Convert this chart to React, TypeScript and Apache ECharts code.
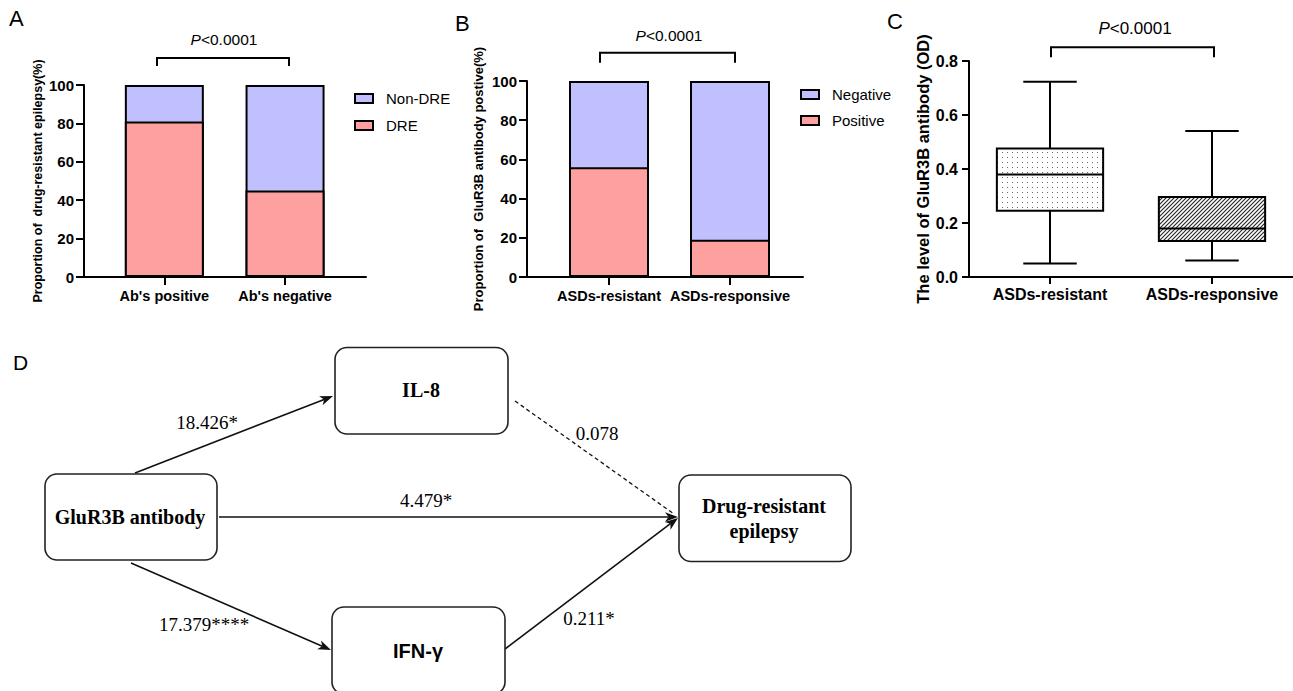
import React, { useEffect, useRef } from 'react';
import * as echarts from 'echarts';

// ---------- Data ----------
const catsA = ["Ab's positive", "Ab's negative"];
const dreA = [81, 45];
const nonDreA = [19, 55];

const catsB = ['ASDs-resistant', 'ASDs-responsive'];
const positiveB = [56, 19];
const negativeB = [44, 81];

const catsC = ['ASDs-resistant', 'ASDs-responsive'];
// [min, Q1, median, Q3, max]
const boxC = [
  [0.05, 0.245, 0.38, 0.476, 0.723],
  [0.061, 0.133, 0.18, 0.296, 0.541],
];

const pLabel = '<0.0001';
const nodeLabels = ['GluR3B antibody', 'IL-8', 'IFN-γ', 'Drug-resistant\nepilepsy'];
const edgeCoefs = ['18.426*', '0.078', '4.479*', '17.379****', '0.211*'];

// ---------- Styles ----------
const SANS = '"Liberation Sans", Arial, sans-serif';
const SERIF = '"Liberation Serif", "Times New Roman", serif';
const axisLine = { color: '#000', width: 2 };
const PINK = '#FFA0A0';
const LAVENDER = '#C0C0FF';

function makeDots(): string {
  const c = document.createElement('canvas');
  c.width = 5; c.height = 5;
  const g = c.getContext('2d')!;
  g.fillStyle = '#fff'; g.fillRect(0, 0, 5, 5);
  g.fillStyle = '#666'; g.fillRect(2, 2, 1, 1);
  return c.toDataURL();
}
function makeHatch(): string {
  const c = document.createElement('canvas');
  c.width = 4; c.height = 4;
  const g = c.getContext('2d')!;
  g.fillStyle = '#fff'; g.fillRect(0, 0, 4, 4);
  g.strokeStyle = '#222'; g.lineWidth = 1.1;
  g.beginPath();
  g.moveTo(-1, 5); g.lineTo(5, -1);
  g.moveTo(-1, 1); g.lineTo(1, -1);
  g.moveTo(3, 5); g.lineTo(5, 3);
  g.stroke();
  return c.toDataURL();
}

function arrow(x1: number, y1: number, x2: number, y2: number, dashed = false, head = true): any[] {
  const dx = x2 - x1, dy = y2 - y1;
  const L = Math.hypot(dx, dy);
  const ux = dx / L, uy = dy / L, px = -uy, py = ux;
  const len = 13, half = 4.8, notch = 3.5;
  const ex = head ? x2 - ux * (len - notch) : x2;
  const ey = head ? y2 - uy * (len - notch) : y2;
  const out: any[] = [{
    type: 'line', silent: true,
    shape: { x1, y1, x2: ex, y2: ey },
    style: { stroke: '#111', lineWidth: dashed ? 1.3 : 1.6, lineDash: dashed ? [4, 3] : null },
  }];
  if (head) {
    const bx = x2 - ux * len, by = y2 - uy * len;
    out.push({
      type: 'polygon', silent: true,
      shape: { points: [[x2, y2], [bx + px * half, by + py * half], [x2 - ux * (len - notch), y2 - uy * (len - notch)], [bx - px * half, by - py * half]] },
      style: { fill: '#111' },
    });
  }
  return out;
}

function txt(x: number, y: number, text: string, font: any, align = 'center', vAlign = 'middle'): any {
  return {
    type: 'text', x, y, silent: true,
    style: {
      text, fill: '#000', ...font,
      align, verticalAlign: vAlign, textAlign: align, textVerticalAlign: vAlign,
    },
  };
}

function pText(x: number, y: number, size: number): any {
  return {
    type: 'text', x, y, silent: true,
    style: {
      text: '{i|P}{n|' + pLabel + '}', fill: '#000', fontFamily: SANS, fontSize: size,
      align: 'center', verticalAlign: 'middle', textAlign: 'center', textVerticalAlign: 'middle',
      rich: {
        i: { fontStyle: 'italic', fontFamily: SANS, fontSize: size, fill: '#000' },
        n: { fontFamily: SANS, fontSize: size, fill: '#000' },
      },
    },
  };
}

function bracket(x1: number, x2: number, y: number, leg: number): any {
  return {
    type: 'polyline', silent: true,
    shape: { points: [[x1, y + leg], [x1, y], [x2, y], [x2, y + leg]] },
    style: { stroke: '#000', lineWidth: 2, fill: null },
  };
}

function box(x: number, y: number, w: number, h: number): any {
  return {
    type: 'rect', silent: true,
    shape: { x, y, width: w, height: h, r: 12 },
    style: { fill: '#fff', stroke: '#222', lineWidth: 1.6 },
  };
}

function frameX(grid: number): any {
  return {
    gridIndex: grid, type: 'value', min: 0, max: 1,
    axisLine: { show: true, lineStyle: axisLine },
    axisTick: { show: false }, axisLabel: { show: false }, splitLine: { show: false },
  };
}
function catX(grid: number, data: string[], size: number, margin: number, tickLen: number, showLine: boolean): any {
  return {
    gridIndex: grid, type: 'category', data,
    axisLine: { show: showLine, lineStyle: axisLine },
    axisTick: { show: true, alignWithLabel: true, length: tickLen, lineStyle: axisLine },
    axisLabel: { interval: 0, hideOverlap: false, margin, color: '#000', fontFamily: SANS, fontWeight: 'bold', fontSize: size },
    splitLine: { show: false },
  };
}
function valY(grid: number, max: number, interval: number, name: string, nameSize: number, nameGap: number, labelSize: number, margin: number, tickLen: number, fmt?: (v: number) => string): any {
  return {
    gridIndex: grid, type: 'value', min: 0, max, interval,
    axisLine: { show: true, lineStyle: axisLine },
    axisTick: { show: true, length: tickLen, lineStyle: axisLine },
    axisLabel: { margin, color: '#000', fontFamily: SANS, fontWeight: 'bold', fontSize: labelSize, formatter: fmt },
    splitLine: { show: false },
    name, nameLocation: 'middle', nameRotate: 90, nameGap,
    nameTextStyle: { color: '#000', fontFamily: SANS, fontWeight: 'bold', fontSize: nameSize },
  };
}
function hiddenY(grid: number, max: number): any {
  return { gridIndex: grid, type: 'value', min: 0, max, show: false };
}

export default function App() {
  const ref = useRef<HTMLDivElement>(null);

  useEffect(() => {
    document.body.style.margin = '0';
    const chart = echarts.init(ref.current!, null, { renderer: 'svg' });
    const dots = makeDots();
    const hatch = makeHatch();

    const barStyle = (color: string) => ({ color, borderColor: '#000', borderWidth: 2 });
    const legendText = { color: '#000', fontFamily: SANS, fontSize: 15, padding: [0, 0, 0, 8] };

    // Totals of each stacked column: the back bar shows the upper segment,
    // the front bar (lower segment) is drawn over it so that only one border separates them.
    const totalA = dreA.map((v, i) => v + nonDreA[i]);
    const totalB = positiveB.map((v, i) => v + negativeB[i]);

    const titleFont = { fontFamily: SANS, fontSize: 22 };
    const serifBold = { fontFamily: SERIF, fontSize: 20, fontWeight: 'bold' };
    const serif = { fontFamily: SERIF, fontSize: 19 };

    const graphics: any[] = [
      txt(9, 18, 'A', titleFont, 'left'),
      txt(455, 23, 'B', titleFont, 'left'),
      txt(887, 21.5, 'C', titleFont, 'left'),
      txt(13, 362.5, 'D', { fontFamily: SANS, fontSize: 21 }, 'left'),
      pText(224, 39, 15.5),
      bracket(157, 289, 58, 8),
      pText(669, 35, 15.5),
      bracket(600, 735, 52.7, 10),
      pText(1135, 28, 17),
      bracket(1051, 1214, 47.3, 10),
      // Panel D arrows
      ...arrow(135, 473, 333, 396),
      ...arrow(219, 517, 678, 517),
      ...arrow(131, 563, 331, 650),
      ...arrow(505, 649, 678, 518),
      ...arrow(515, 401, 674, 514, true, false),
      // Panel D boxes
      box(45, 474, 172, 86),
      box(335, 347.5, 173, 86.5),
      box(332, 607, 173, 87),
      box(679, 475, 172, 86.5),
      txt(130, 517, nodeLabels[0], serifBold),
      txt(421, 390, nodeLabels[1], serifBold),
      txt(418, 651, nodeLabels[2], { fontFamily: SANS, fontSize: 20, fontWeight: 'bold' }),
      {
        type: 'text', x: 764, y: 518, silent: true,
        style: {
          text: nodeLabels[3], fill: '#000', ...serifBold, lineHeight: 25,
          align: 'center', verticalAlign: 'middle', textAlign: 'center', textVerticalAlign: 'middle',
        },
      },
      txt(207, 422, edgeCoefs[0], serif),
      txt(597, 433, edgeCoefs[1], serif),
      txt(426, 500, edgeCoefs[2], serif),
      txt(204, 624, edgeCoefs[3], serif),
      txt(589, 618, edgeCoefs[4], serif),
    ];

    const option: any = {
      animation: false,
      backgroundColor: '#fff',
      grid: [
        { left: 84, top: 85, width: 282, height: 192 },
        { left: 104, top: 85, width: 241.4, height: 192 },
        { left: 527, top: 81, width: 276, height: 196 },
        { left: 548.5, top: 81, width: 242, height: 196 },
        { left: 969, top: 61, width: 326, height: 216 },
      ],
      xAxis: [
        frameX(0),
        catX(1, catsA, 14.5, 11, 8, false),
        frameX(2),
        catX(3, catsB, 14.5, 11, 8, false),
        catX(4, catsC, 16, 9, 7, true),
      ],
      yAxis: [
        valY(0, 100, 20, 'Proportion of  drug-resistant epilepsy(%)', 12.5, 40, 15, 10, 8),
        hiddenY(1, 100),
        valY(2, 100, 20, 'Proportion of  GluR3B antibody postive(%)', 13, 42, 15, 10, 8),
        hiddenY(3, 100),
        valY(4, 0.8, 0.2, 'The level of GluR3B antibody (OD)', 16.5, 38, 16, 11, 7, (v: number) => v.toFixed(1)),
      ],
      legend: [
        {
          data: ['Non-DRE', 'DRE'], orient: 'vertical', left: 349, top: 86,
          itemWidth: 18, itemHeight: 9, itemGap: 12, icon: 'rect', selectedMode: false,
          textStyle: legendText,
        },
        {
          data: ['Negative', 'Positive'], orient: 'vertical', left: 795, top: 82,
          itemWidth: 18, itemHeight: 9, itemGap: 11, icon: 'rect', selectedMode: false,
          textStyle: legendText,
        },
      ],
      series: [
        { type: 'bar', name: 'Non-DRE', xAxisIndex: 1, yAxisIndex: 1, data: totalA, barWidth: 79, barGap: '-100%', itemStyle: barStyle(LAVENDER) },
        { type: 'bar', name: 'DRE', xAxisIndex: 1, yAxisIndex: 1, data: dreA, barWidth: 79, barGap: '-100%', itemStyle: barStyle(PINK) },
        { type: 'bar', name: 'Negative', xAxisIndex: 3, yAxisIndex: 3, data: totalB, barWidth: 80, barGap: '-100%', itemStyle: barStyle(LAVENDER) },
        { type: 'bar', name: 'Positive', xAxisIndex: 3, yAxisIndex: 3, data: positiveB, barWidth: 80, barGap: '-100%', itemStyle: barStyle(PINK) },
        {
          type: 'custom', name: 'GluR3B level', xAxisIndex: 4, yAxisIndex: 4,
          encode: { x: 0, y: [1, 2, 3, 4, 5] },
          data: boxC.map((d, i) => [i, ...d]),
          renderItem: (params: any, api: any) => {
            const i = api.value(0);
            const c = (v: number) => api.coord([i, v]);
            const [cx, yMin] = c(api.value(1));
            const yQ1 = c(api.value(2))[1];
            const yMed = c(api.value(3))[1];
            const yQ3 = c(api.value(4))[1];
            const yMax = c(api.value(5))[1];
            const band = api.size([1, 0])[0];
            const bw = band * 0.656, cw = band * 0.33;
            const img = params.dataIndex === 0 ? dots : hatch;
            const sz = params.dataIndex === 0 ? 5 : 4;
            const ls = { stroke: '#000', lineWidth: 2 };
            return {
              type: 'group',
              children: [
                { type: 'line', shape: { x1: cx, y1: yMax, x2: cx, y2: yQ3 }, style: ls },
                { type: 'line', shape: { x1: cx, y1: yQ1, x2: cx, y2: yMin }, style: ls },
                { type: 'line', shape: { x1: cx - cw / 2, y1: yMax, x2: cx + cw / 2, y2: yMax }, style: ls },
                { type: 'line', shape: { x1: cx - cw / 2, y1: yMin, x2: cx + cw / 2, y2: yMin }, style: ls },
                {
                  type: 'rect',
                  shape: { x: cx - bw / 2, y: yQ3, width: bw, height: yQ1 - yQ3 },
                  style: { fill: { image: img, repeat: 'repeat', imageWidth: sz, imageHeight: sz }, stroke: '#000', lineWidth: 2 },
                },
                { type: 'line', shape: { x1: cx - bw / 2, y1: yMed, x2: cx + bw / 2, y2: yMed }, style: ls },
              ],
            };
          },
        },
      ],
      graphic: graphics,
    };

    chart.setOption(option);
    return () => chart.dispose();
  }, []);

  return (
    <div
      ref={ref}
      style={{ position: 'absolute', left: 0, top: 0, width: 1293, height: 691, background: '#fff' }}
    />
  );
}
